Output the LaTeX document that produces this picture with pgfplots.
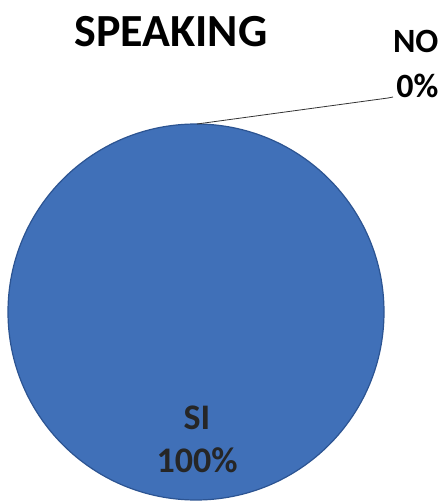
\documentclass[border=0pt]{standalone}
\usepackage{pgfplots}
\usepackage{pgfplotstable}
\usepackage{fontspec}
\setmainfont{Carlito}
\pgfplotsset{compat=1.18}

\definecolor{pieblue}{RGB}{64,112,184}
\definecolor{pieedge}{RGB}{44,84,146}

% share of answers, in percent
\pgfplotstableread{
label value
SI    100
NO    0
}\piedata

\begin{document}
\begin{tikzpicture}
\begin{axis}[
    name=pie,
    hide axis,
    scale only axis,
    width=444pt, height=501pt,
    xmin=0, xmax=444, ymin=0, ymax=501,
    clip=true,
]
% pie centre and radius in axis units (1 unit = 1pt)
\def\cx{196}\def\cy{189}\def\rr{188}
\pgfplotstablegetelem{0}{value}\of\piedata
\pgfmathsetmacro\angSI{3.6*\pgfplotsretval}
\pgfplotstablegetelem{1}{value}\of\piedata
\pgfmathsetmacro\angNO{3.6*\pgfplotsretval}
% SI slice, clockwise from the top
\fill[pieblue] (axis cs:\cx,\cy) -- ++(90:\rr pt) arc[start angle=90, delta angle=-\angSI, radius=\rr pt] -- cycle;
\draw[pieedge, line width=1.2pt] (axis cs:\cx,\cy) circle[radius=\rr];
% labels
\node[anchor=base, font=\bfseries\fontsize{46}{50}\selectfont] at (axis cs:171,454) {SPEAKING};
\node[anchor=base, font=\bfseries\fontsize{36}{40}\selectfont, text=black!85] at (axis cs:197,71) {SI};
\node[anchor=base, font=\bfseries\fontsize{36}{40}\selectfont, text=black!85] at (axis cs:197,28) {100\%};
\node[anchor=base east, font=\bfseries\fontsize{34}{38}\selectfont] at (axis cs:442,448) {NO};
\node[anchor=base east, font=\bfseries\fontsize{34}{38}\selectfont] at (axis cs:442,403) {0\%};
\draw[black!80, line width=0.8pt] (axis cs:197,377) -- (axis cs:388,403) -- (axis cs:393,404);
\end{axis}
\useasboundingbox (pie.south west) rectangle (pie.north east);
\end{tikzpicture}
\end{document}
